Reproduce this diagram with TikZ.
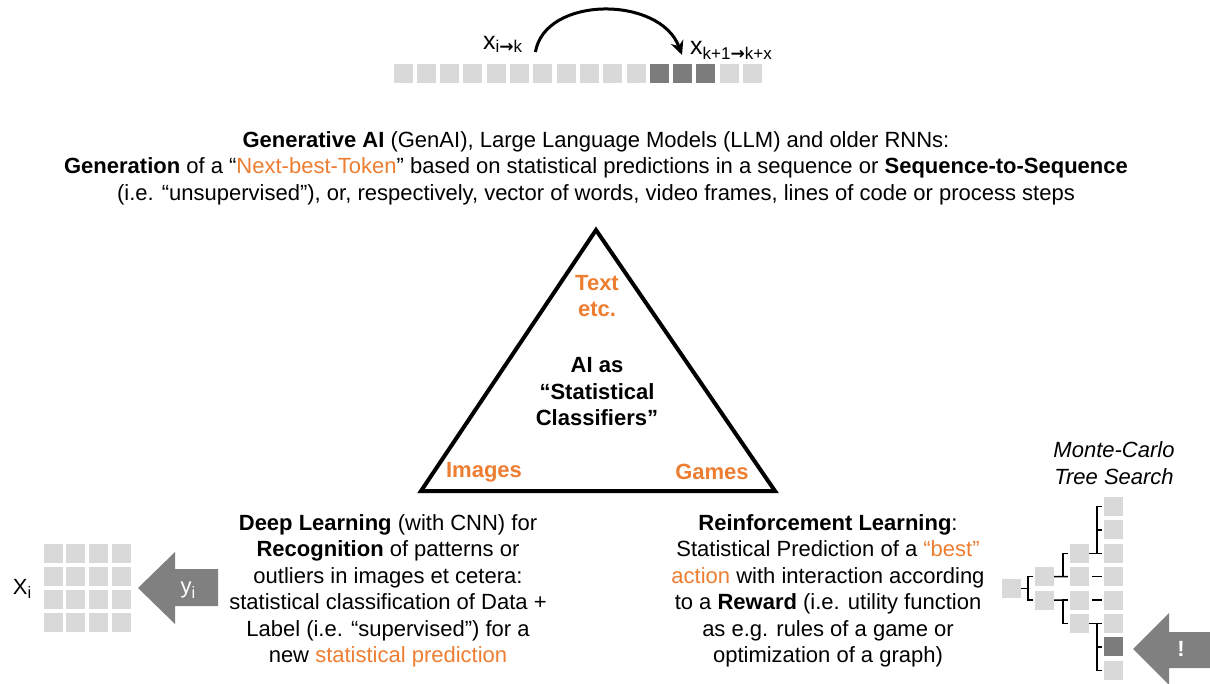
\documentclass[tikz,border=0pt]{standalone}
\usepackage{fontspec}
\setmainfont{Liberation Sans}
\newfontfamily\arrfont{DejaVu Sans}
\usetikzlibrary{arrows.meta}
\definecolor{orng}{RGB}{237,125,49}
\definecolor{lgray}{RGB}{217,217,217}
\definecolor{dgray}{RGB}{124,124,124}
\definecolor{agray}{RGB}{128,128,128}
\tikzstyle{sq}=[shape=rectangle, minimum size=19pt, inner sep=0, fill=lgray]
\tikzstyle{dsq}=[sq, fill=dgray]
\tikzstyle{txt}=[align=center, inner sep=0, font=\fontsize{22}{26.5}\selectfont]
\tikzstyle{btxt}=[txt, font=\fontsize{22}{26.5}\selectfont\bfseries]
\tikzstyle{seq}=[inner sep=0, font=\fontsize{25}{25}\selectfont]
\tikzstyle{tree}=[line width=1.5pt]
\newcommand{\low}[1]{\raisebox{-0.4ex}{\fontsize{16.5}{16.5}\selectfont #1}}
\newcommand{\seqlow}[2]{\raisebox{-#1}{\fontsize{17}{17}\selectfont #2}}
\newcommand{\rarr}{{\arrfont\bfseries →}}
\newcommand{\hl}[1]{\textcolor{orng}{#1}}

\begin{document}
\begin{tikzpicture}[x=1pt, y=-1pt]
\useasboundingbox (0,0) rectangle (1210,684);
% sequence of tokens
\foreach \i in {0,...,10,14,15}
    \draw (403+23.3*\i,74) node[sq] (s\i) {};
\foreach \i in {11,12,13}
    \draw (403+23.3*\i,74) node[dsq] (s\i) {};
\draw (483,50) node[seq, anchor=base west] (xa) {x\seqlow{3pt}{i\rarr k}};
\draw (690,55) node[seq, anchor=base west] (xb) {x\seqlow{5pt}{k+1\rarr k+x}};
\draw[line width=3pt, -{Stealth[length=14pt, width=13pt]}] ([xshift=13pt, yshift=-2pt]xa.base east) .. controls (545,-4.5) and (660,-4.5) .. ([xshift=-8pt]xb.base west);
%
\draw (596,168) node[txt] (genai) {\textbf{Generative AI} (GenAI), Large Language Models (LLM) and older RNNs:\\
\textbf{Generation} of a “\hl{Next-best-Token}” based on statistical predictions in a sequence or \textbf{Sequence-to-Sequence}\\
(i.e. “unsupervised”), or, respectively, vector of words, video frames, lines of code or process steps};
%
% triangle
\coordinate (ta) at (596,230);
\coordinate (tb) at (421,491);
\coordinate (tc) at (775,491);
\draw[line width=4pt, line join=miter] (ta)--(tb)--(tc)--cycle;
\draw (597,296) node[btxt, text=orng] (text) {Text\\etc.};
\draw (597,392) node[btxt] (ai) {AI as\\“Statistical\\Classifiers”};
\draw (484,472) node[btxt, text=orng] (img) {Images};
\draw (712,472) node[btxt, text=orng] (gam) {Games};
%
% deep learning
\draw (388,591) node[txt] (dl) {\textbf{Deep Learning} (with CNN) for\\
\textbf{Recognition} of patterns or\\
outliers in images et cetera:\\
statistical classification of Data +\\
Label (i.e. “supervised”) for a\\
new \hl{statistical prediction}};
\foreach \i in {0,...,3}
    \foreach \j in {0,...,3}
        \draw (53+22.7*\i,553+23.3*\j) node[sq] (g\i\j) {};
\draw (22,589) node[txt] (xi) {X\low{i}};
\fill[agray] (218,569)--(175,569)--(175,552)--(138,588)--(175,624)--(175,606)--(218,606)--cycle;
\draw (188,590) node[txt, text=white] (yi) {y\low{i}};
%
% reinforcement learning
\draw (828,591) node[txt] (rl) {\textbf{Reinforcement Learning}:\\
Statistical Prediction of a \hl{“best”}\\
\hl{action} with interaction according\\
to a \textbf{Reward} (i.e. utility function\\
as e.g. rules of a game or\\
optimization of a graph)};
%
% tree search
\draw (1114,463) node[txt, font=\fontsize{22}{26.5}\selectfont\itshape] (mcts) {Monte-Carlo\\Tree Search};
\draw (1011.5,588.4) node[sq] (t1) {};
\draw (1044.5,576.7) node[sq] (t2a) {};
\draw (1044.5,600.1) node[sq] (t2b) {};
\foreach \j/\n in {2/a,3/b,4/c,5/d}
    \draw (1079.5,506.5+23.4*\j) node[sq] (t3\n) {};
\foreach \j in {0,...,7}
    \draw (1113.5,506.5+23.4*\j) node[sq] (l\j) {};
\draw (1113.5,506.5+23.4*6) node[dsq] (l6) {};
%
\draw[tree] (t1.east) -- ++(7,0);
\draw[tree] ([xshift=-2pt]t2a.west) -- ++(-5,0) |- ([xshift=-2pt]t2b.west);
\draw[tree] (t2a.east) -- ([xshift=-2pt]t3b.west);
\draw[tree] ([xshift=-2pt]t3a.west) -- ++(-5,0) |- ([xshift=-2pt]t3b.west);
\draw[tree] (t2b.east) -- ([xshift=-2pt]t3c.west);
\draw[tree] ([xshift=-2pt]t3c.west) -- ++(-5,0) |- ([xshift=-2pt]t3d.west);
\draw[tree] (t3a.east) -- ([xshift=-7pt]l2.west);
\draw[tree] ([xshift=-2pt]l0.west) -- ++(-5,0) |- ([xshift=-2pt]l2.west);
\draw[tree] ([xshift=-2pt]l1.west) -- ++(-5,0);
\draw[tree] ([xshift=3pt]t3b.east) -- ([xshift=-2pt]l3.west);
\draw[tree] ([xshift=3pt]t3c.east) -- ([xshift=-2pt]l4.west);
\draw[tree] (t3d.east) -- ([xshift=-7pt]l5.west);
\draw[tree] ([xshift=-2pt]l5.west) -- ++(-5,0) |- ([xshift=-2pt]l7.west);
\draw[tree] ([xshift=-2pt]l6.west) -- ++(-5,0);
\fill[agray] (1210,632)--(1169,632)--(1169,613)--(1133,649)--(1169,685)--(1169,668)--(1210,668)--cycle;
\draw (1181,649) node[btxt, text=white] (excl) {!};
\end{tikzpicture}
\end{document}
